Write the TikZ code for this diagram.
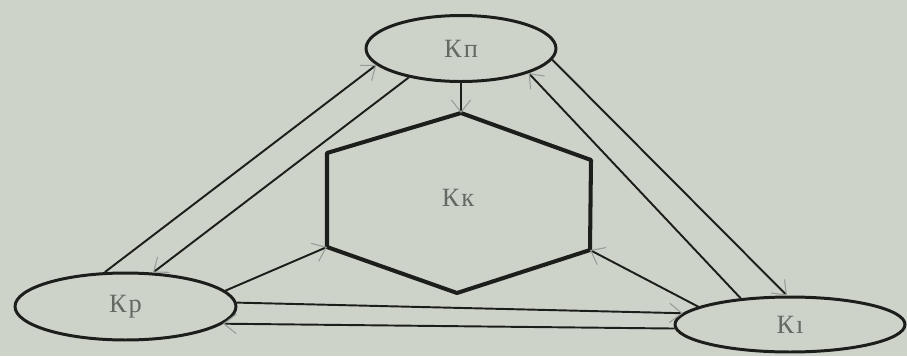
\documentclass[tikz,border=0pt]{standalone}
\usepackage{fontspec}
\setmainfont{Liberation Serif}
\usetikzlibrary{shapes.geometric,arrows.meta}
\definecolor{paper}{RGB}{206,211,202}
\definecolor{ink}{RGB}{28,30,28}
\definecolor{txt}{RGB}{100,105,99}
\definecolor{tip}{RGB}{150,156,150}
\begin{document}
\begin{tikzpicture}[x=0.02cm,y=-0.02cm,
  lbl/.style={text=txt,font=\fontsize{15}{15}\selectfont\addfontfeatures{LetterSpace=8}},
  oval/.style={ellipse,draw=ink,line width=1.7pt,inner sep=0pt,lbl},
  link/.style={draw=ink,line width=1.1pt},
  tipped/.style={link,-{Straight Barb[color=tip,length=7pt,width=11pt,line width=0.6pt]}},
  hexline/.style={draw=ink,line width=2.3pt,line join=round}]
\fill[paper] (0,0) rectangle (907,356);
\useasboundingbox (0,0) rectangle (907,356);
% ellipses
\node[oval,minimum width=3.8cm,minimum height=1.32cm] (kp) at (461,48.5) {Кп};
\node[oval,minimum width=4.42cm,minimum height=1.34cm] (kr) at (125.5,306.5) {Кр};
\node[oval,minimum width=4.6cm,minimum height=1.1cm] (ki) at (790,324.5) {Кı};
% hexagon
\coordinate (h1) at (461,113);
\coordinate (h2) at (327,153);
\coordinate (h3) at (327,247);
\coordinate (h4) at (457,293);
\coordinate (h5) at (590,250);
\coordinate (h6) at (591,160);
\draw[hexline] (h1) -- (h2) -- (h3) -- (h4) -- (h5) -- (h6) -- cycle;
\node[lbl] (kk) at (458,198) {Кк};
% connectors
\draw[tipped] (kp.270) -- (h1);
\draw[tipped] (kr.121.5) -- (kp.191);
\draw[tipped] (kp.209.7) -- (kr.51.6);
\draw[tipped] (kp.353) -- (ki.96);
\draw[tipped] (ki.152) -- (kp.340);
\draw[tipped] (kr.9.7) -- (h3);
\draw[tipped] (ki.169) -- (h5);
\draw[tipped] (kr.2.3) -- (ki.174);
\draw[tipped] (ki.182) -- (kr.-10);
\end{tikzpicture}
\end{document}
